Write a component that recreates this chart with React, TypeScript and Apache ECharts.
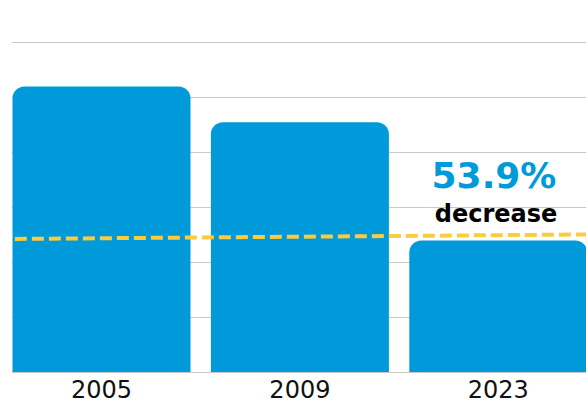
import React, { useEffect, useRef } from "react";
import * as echarts from "echarts";

const categories = ["2005", "2009", "2023"];
const values = [51.9, 45.4, 23.9];
const trendLine = [24.2, 25.0];
const annotationValue = "53.9%";
const annotationLabel = "decrease";

export default function App() {
  const ref = useRef<HTMLDivElement>(null);
  useEffect(() => {
    if (!ref.current) return;
    const chart = echarts.init(ref.current, undefined, { renderer: "svg" });
    chart.setOption({
      animation: false,
      grid: [
        { left: 12, right: 0, top: 42, bottom: 32, outerBoundsMode: "none" },
        { left: 2.3, width: 595.2, top: 42, bottom: 32, outerBoundsMode: "none" },
      ],
      xAxis: [
        {
          type: "value",
          gridIndex: 0,
          min: 0,
          max: 1,
          axisLine: { show: false },
          axisTick: { show: false },
          axisLabel: { show: false },
          splitLine: { show: false },
        },
        {
          type: "category",
          gridIndex: 1,
          data: categories,
          axisLine: { show: false },
          axisTick: { show: false },
          axisLabel: {
            color: "#111",
            fontSize: 24,
            lineHeight: 20,
            fontFamily: "DejaVu Sans",
            margin: 7.5,
          },
        },
      ],
      yAxis: [
        {
          type: "value",
          gridIndex: 0,
          min: 0,
          max: 60,
          interval: 10,
          axisLabel: { show: false },
          axisTick: { show: false },
          axisLine: { show: false },
          splitLine: { lineStyle: { color: "#c8c8c8", width: 1 } },
        },
        {
          type: "value",
          gridIndex: 1,
          min: 0,
          max: 60,
          interval: 10,
          axisLabel: { show: false },
          axisTick: { show: false },
          axisLine: { show: false },
          splitLine: { show: false },
        },
      ],
      series: [
        {
          type: "bar",
          xAxisIndex: 1,
          yAxisIndex: 1,
          data: values,
          barWidth: 178,
          itemStyle: { color: "#009ADA", borderRadius: [12, 12, 0, 0] },
          z: 2,
        },
        {
          type: "line",
          xAxisIndex: 0,
          yAxisIndex: 0,
          data: [
            [0.005, trendLine[0]],
            [1, trendLine[1]],
          ],
          symbol: "none",
          lineStyle: { color: "#FDCB3E", width: 4, type: [12, 5] },
          z: 3,
        },
      ],
      graphic: [
        {
          type: "text",
          x: 494,
          y: 175,
          style: {
            text: annotationValue,
            fill: "#009ADA",
            font: "bold 36px 'DejaVu Sans'",
            align: "center",
            verticalAlign: "middle",
          },
          z: 10,
        },
        {
          type: "text",
          x: 496,
          y: 214,
          style: {
            text: annotationLabel,
            fill: "#000",
            font: "bold 24px 'DejaVu Sans'",
            align: "center",
            verticalAlign: "middle",
          },
          z: 10,
        },
      ],
    });
    return () => chart.dispose();
  }, []);
  return <div ref={ref} style={{ width: 586, height: 404, position: "absolute", left: 0, top: 0 }} />;
}
